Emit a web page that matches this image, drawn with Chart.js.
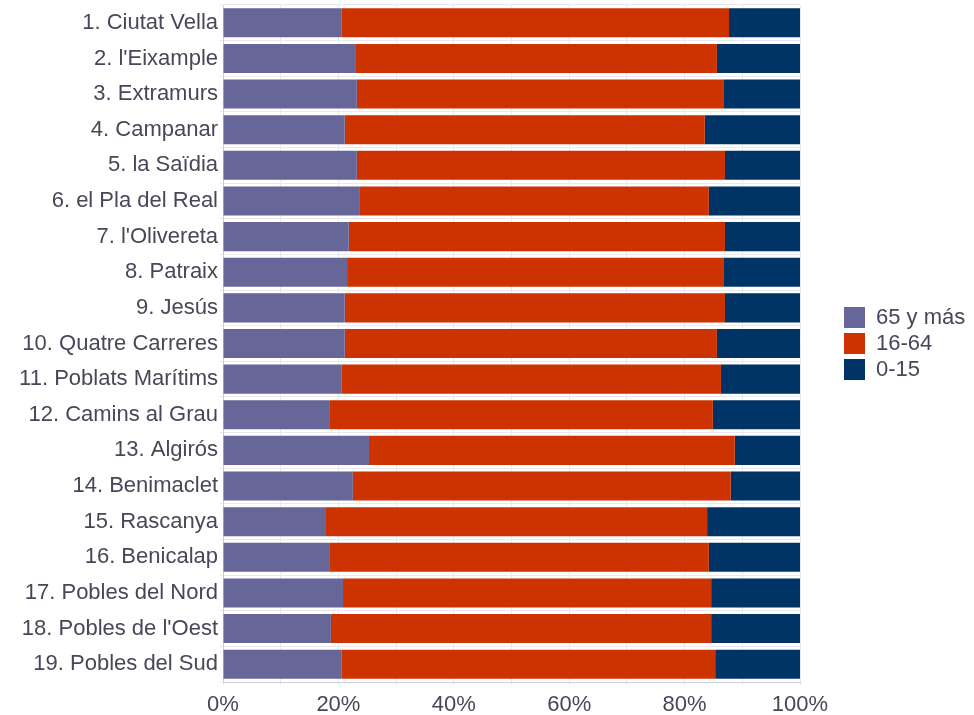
<!DOCTYPE html>
<html><head><meta charset="utf-8">
<script src="https://cdn.jsdelivr.net/npm/chart.js@4.4.1/dist/chart.umd.min.js"></script>
<style>html,body{margin:0;padding:0;background:#fff;overflow:hidden;} #wrap{width:974px;height:715px;position:relative;}</style>
</head><body><div id="wrap"><canvas id="c"></canvas></div>
<script>
const categories = ["1. Ciutat Vella","2. l'Eixample","3. Extramurs","4. Campanar","5. la Saïdia","6. el Pla del Real","7. l'Olivereta","8. Patraix","9. Jesús","10. Quatre Carreres","11. Poblats Marítims","12. Camins al Grau","13. Algirós","14. Benimaclet","15. Rascanya","16. Benicalap","17. Pobles del Nord","18. Pobles de l'Oest","19. Pobles del Sud"];
const age65plus = [20.5,22.9,23.2,21.1,23.2,23.6,21.8,21.5,21.1,21.1,20.5,18.4,25.3,22.5,17.7,18.4,20.8,18.7,20.5];
const age16to64 = [67.2,62.7,63.5,62.4,63.8,60.6,65.2,65.2,65.9,64.5,65.8,66.5,63.4,65.5,66.2,65.8,63.8,65.9,64.8];
const age0to15 = [12.3,14.4,13.3,16.5,13.0,15.8,13.0,13.3,13.0,14.4,13.7,15.1,11.3,12.0,16.1,15.8,15.4,15.4,14.7];
const seriesNames = ["65 y más","16-64","0-15"];
const seriesColors = ["#666699","#cc3300","#003366"];
const xTickStep = 10;
const xLabelEvery = 20;

const FONT = "'Liberation Sans', Arial, sans-serif";
const TEXT = "#474759";
const FS = 22;
const legendTotalWidth = 174;
const legendShift = 40;

const legendShiftPlugin = {
  id: 'legendShift',
  afterInit(chart) {
    const lg = chart.legend;
    if (!lg) return;
    const orig = lg.fit.bind(lg);
    lg.fit = function () { orig(); this.width = legendTotalWidth; };
  },
  afterLayout(chart) {
    const lg = chart.legend;
    if (!lg) return;
    lg.left += legendShift;
    lg.top = chart.chartArea.top;
    lg.bottom = chart.chartArea.bottom;
    lg.height = lg.bottom - lg.top;
  }
};

new Chart(document.getElementById('c'), {
  type: 'bar',
  data: {
    labels: categories,
    datasets: [
      { label: seriesNames[0], data: age65plus, backgroundColor: seriesColors[0] },
      { label: seriesNames[1], data: age16to64, backgroundColor: seriesColors[1] },
      { label: seriesNames[2], data: age0to15, backgroundColor: seriesColors[2] }
    ]
  },
  options: {
    indexAxis: 'y',
    responsive: true,
    maintainAspectRatio: false,
    animation: false,
    datasets: { bar: { barPercentage: 1, categoryPercentage: 0.815, borderWidth: 0 } },
    layout: { padding: { top: 5, right: 0, bottom: 0, left: 0 } },
    scales: {
      x: {
        stacked: true, min: 0, max: 100,
        grid: { color: '#e8e8ee', tickLength: 3, drawTicks: true },
        border: { color: '#cfcfdb', width: 1 },
        ticks: {
          stepSize: xTickStep, color: TEXT, padding: 9, maxRotation: 0, autoSkip: false,
          font: { family: FONT, size: FS, lineHeight: 1.0 },
          callback: (v) => (v % xLabelEvery === 0 ? v + '%' : '')
        },
        afterFit: (s) => { s.height = 33; }
      },
      y: {
        stacked: true,
        grid: { color: '#e8e8ee', tickLength: 3, offset: true },
        border: { color: '#cfcfdb', width: 1 },
        ticks: { color: TEXT, padding: 2, autoSkip: false, font: { family: FONT, size: FS } },
        afterFit: (s) => { s.width = 223; s.paddingTop = 0; s.paddingBottom = 0; }
      }
    },
    plugins: {
      legend: {
        position: 'right',
        align: 'center',
        labels: { boxWidth: 21, boxHeight: 21, padding: 4, color: TEXT, font: { family: FONT, size: FS } }
      },
      tooltip: { enabled: false }
    }
  },
  plugins: [legendShiftPlugin]
});
</script>
</body></html>
